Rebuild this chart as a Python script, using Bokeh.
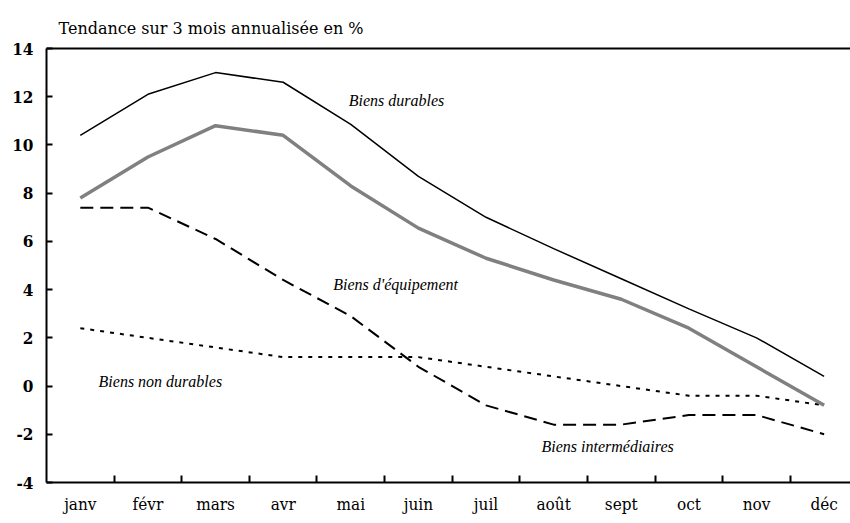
import numpy as np
from bokeh.plotting import figure
from bokeh.models import Range1d, FixedTicker, LinearAxis, Label
from bokeh.embed import file_html
from bokeh.resources import INLINE

months = ["janv", "févr", "mars", "avr", "mai", "juin", "juil", "août", "sept", "oct", "nov", "déc"]
biens_durables = [10.4, 12.1, 13.0, 12.6, 10.85, 8.7, 7.0, 5.7, 4.45, 3.2, 2.0, 0.4]
biens_equipement = [7.8, 9.5, 10.8, 10.4, 8.3, 6.55, 5.3, 4.4, 3.6, 2.4, 0.8, -0.8]
biens_intermediaires = [7.4, 7.4, 6.1, 4.4, 2.9, 0.8, -0.8, -1.6, -1.6, -1.2, -1.2, -2.0]
biens_non_durables = [2.4, 2.0, 1.6, 1.2, 1.2, 1.2, 0.8, 0.4, 0.0, -0.4, -0.4, -0.8]
y_ticks = [-4, -2, 0, 2, 4, 6, 8, 10, 12, 14]

TICKFONT = "DejaVu Serif Condensed, DejaVu Serif"
SERIF = "DejaVu Serif"
ITALIC = "Liberation Serif"

x = np.arange(len(months))

p = figure(width=850, height=523,
           x_range=Range1d(-0.5, 11.39), y_range=Range1d(-4, 14),
           output_backend="svg", toolbar_location=None,
           x_axis_location=None, y_axis_location=None,
           min_border_left=46, min_border_right=0,
           min_border_top=48, min_border_bottom=41)
p.grid.visible = False
p.outline_line_color = None
p.background_fill_color = "white"
p.border_fill_color = "white"

p.title.text = "Tendance sur 3 mois annualisée en %"
p.title.align = "left"
p.title.offset = 12
p.title.text_font = SERIF
p.title.text_font_size = "16px"
p.title.text_font_style = "normal"
p.title.text_color = "black"
p.title.standoff = 22

# bottom axis: labels at category centres, ticks between categories
xaxis = LinearAxis(
    ticker=FixedTicker(ticks=list(x), minor_ticks=[i + 0.5 for i in range(len(months) - 1)]),
    major_label_overrides={int(i): m for i, m in zip(x, months)},
)
xaxis.major_tick_line_color = None
xaxis.major_tick_in = 0
xaxis.major_tick_out = 0
xaxis.minor_tick_in = 7
xaxis.minor_tick_out = 0
xaxis.minor_tick_line_width = 2
xaxis.minor_tick_line_color = "black"
xaxis.axis_line_width = 2
xaxis.axis_line_color = "black"
xaxis.major_label_standoff = 11
xaxis.major_label_text_font = TICKFONT
xaxis.major_label_text_font_size = "17px"
xaxis.major_label_text_color = "black"
p.add_layout(xaxis, "below")

yaxis = LinearAxis(ticker=FixedTicker(ticks=y_ticks),
                   major_label_overrides={t: str(t) for t in y_ticks})
yaxis.major_tick_in = 6
yaxis.major_tick_out = 0
yaxis.major_tick_line_width = 2
yaxis.major_tick_line_color = "black"
yaxis.minor_tick_line_color = None
yaxis.axis_line_width = 2
yaxis.axis_line_color = "black"
yaxis.major_label_standoff = 13
yaxis.major_label_text_font = TICKFONT
yaxis.major_label_text_font_size = "17px"
yaxis.major_label_text_font_style = "bold"
yaxis.major_label_text_color = "black"
p.add_layout(yaxis, "left")

top = LinearAxis(ticker=FixedTicker(ticks=[]))
top.axis_line_width = 2
top.axis_line_color = "black"
top.major_label_text_font_size = "0px"
top.major_tick_line_color = None
top.minor_tick_line_color = None
p.add_layout(top, "above")

p.line(x, biens_non_durables, line_color="black", line_width=2, line_dash="4 6")
p.line(x, biens_intermediaires, line_color="black", line_width=2, line_dash="13 7")
p.line(x, biens_equipement, line_color="#808080", line_width=3.5)
p.line(x, biens_durables, line_color="black", line_width=1.5)

lab_style = dict(text_font=ITALIC, text_font_style="italic", text_font_size="16px",
                 text_color="black", text_align="left", text_baseline="middle")
p.add_layout(Label(x=3.97, y=11.85, text="Biens durables", **lab_style))
p.add_layout(Label(x=3.74, y=4.2, text="Biens d'équipement", **lab_style))
p.add_layout(Label(x=0.27, y=0.2, text="Biens non durables", **lab_style))
p.add_layout(Label(x=6.82, y=-2.5, text="Biens intermédiaires", **lab_style))

open("out.html", "w").write(file_html(p, INLINE))
